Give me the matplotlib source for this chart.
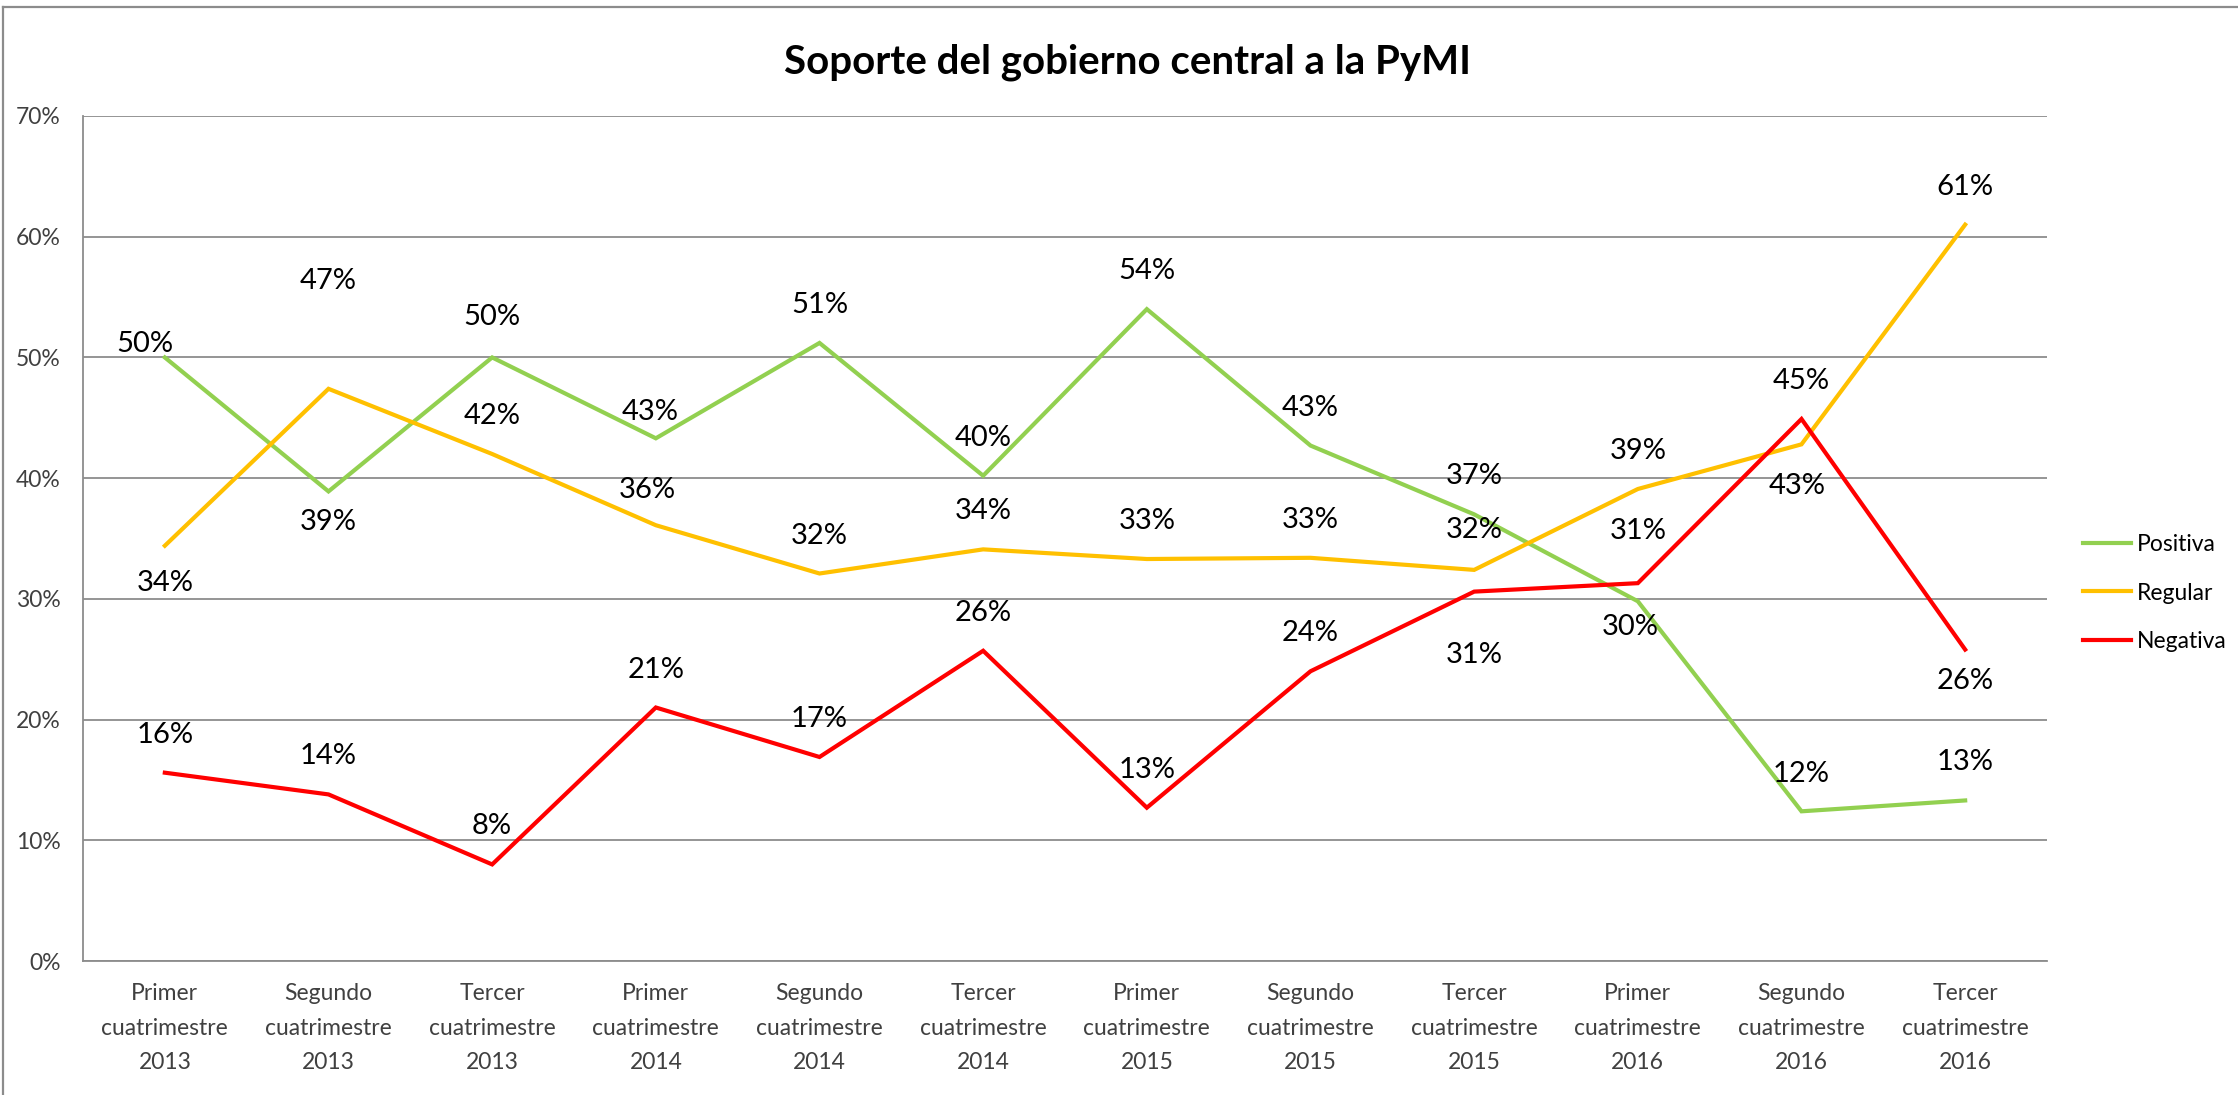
import matplotlib
matplotlib.use("Agg")
import matplotlib.pyplot as plt
from matplotlib.lines import Line2D

# data (percent)
periods = [
    "Primer\ncuatrimestre\n2013", "Segundo\ncuatrimestre\n2013", "Tercer\ncuatrimestre\n2013",
    "Primer\ncuatrimestre\n2014", "Segundo\ncuatrimestre\n2014", "Tercer\ncuatrimestre\n2014",
    "Primer\ncuatrimestre\n2015", "Segundo\ncuatrimestre\n2015", "Tercer\ncuatrimestre\n2015",
    "Primer\ncuatrimestre\n2016", "Segundo\ncuatrimestre\n2016", "Tercer\ncuatrimestre\n2016",
]
positiva = [50.0, 38.9, 50.0, 43.3, 51.2, 40.2, 54.0, 42.7, 37.0, 29.8, 12.4, 13.3]
regular = [34.4, 47.4, 42.0, 36.1, 32.1, 34.1, 33.3, 33.4, 32.4, 39.1, 42.8, 61.0]
negativa = [15.6, 13.8, 8.0, 21.0, 16.9, 25.7, 12.7, 24.0, 30.6, 31.3, 44.9, 25.8]
yticks = [0, 10, 20, 30, 40, 50, 60, 70]
title = "Soporte del gobierno central a la PyMI"

# label offsets in pixels (dx, dy), dy > 0 means above the point
off_pos = [(-20, 13), (0, -31), (0, 40), (-6, 26), (0, 38), (0, 38),
           (0, 38), (0, 38), (0, 38), (-8, -26), (0, 37), (0, 38)]
off_reg = [(0, -37), (0, 108), (0, 38), (-9, 35), (0, 38), (0, 38),
           (0, 38), (0, 38), (0, 40), (0, 38), (-4, -42), (0, 38)]
off_neg = [(0, 38), (0, 38), (0, 38), (0, 38), (0, 38), (0, 38),
           (0, 38), (0, 38), (0, -63), (0, 52), (0, 38), (0, -31)]

plt.rcParams["font.family"] = ["Lato", "DejaVu Sans"]

W, H, DPI = 2238, 1095, 100
fig = plt.figure(figsize=(W / DPI, H / DPI), dpi=DPI)
ax = fig.add_axes([83 / W, 1 - 961 / H, (2047 - 83) / W, (961 - 116) / H])

grid_c = "#8c8c8c"
x = list(range(len(periods)))
series = [
    ("Positiva", positiva, "#92D050", off_pos),
    ("Regular", regular, "#FFC000", off_reg),
    ("Negativa", negativa, "#FF0000", off_neg),
]
px2pt = 72 / DPI
for name, vals, col, offs in series:
    ax.plot(x, vals, color=col, lw=3.0, label=name, solid_joinstyle="miter", zorder=3)
    for xi, v, (dx, dy) in zip(x, vals, offs):
        ax.annotate(f"{round(v)}%", (xi, v), xytext=(dx * px2pt, dy * px2pt),
                    textcoords="offset points", ha="center", va="center",
                    fontsize=21, color="black", zorder=4)

ax.set_xlim(-0.5, len(periods) - 0.5)
ax.set_ylim(0, 70)
ax.set_yticks(yticks)
ax.set_yticklabels([f"{t}%" for t in yticks])
ax.set_xticks(x)
ax.set_xticklabels(periods, linespacing=1.8)
ax.tick_params(axis="both", length=0, labelsize=16.5, labelcolor="#404040")
ax.tick_params(axis="x", pad=16)
ax.tick_params(axis="y", pad=16)
ax.grid(axis="y", color=grid_c, lw=1.3)
ax.set_axisbelow(True)
for s in ["top", "right"]:
    ax.spines[s].set_visible(False)
for s in ["left", "bottom"]:
    ax.spines[s].set_color(grid_c)
    ax.spines[s].set_linewidth(1.3)

fig.text(1128 / W, 1 - 62 / H, title, ha="center", va="center",
         fontsize=29, fontweight="bold", color="black")

ax.legend(loc="center left", bbox_to_anchor=(2083 / W, 1 - 593 / H),
          bbox_transform=fig.transFigure, frameon=False, fontsize=16.5,
          handlelength=2.1, handletextpad=0.25, labelspacing=1.2,
          borderpad=0, borderaxespad=0)

# chart area border (left and top visible)
bx, by = 3 / W, 1 - 7 / H
fig.add_artist(Line2D([bx, bx], [0, by], transform=fig.transFigure, color="#8c8c8c", lw=1.6))
fig.add_artist(Line2D([bx, 1], [by, by], transform=fig.transFigure, color="#8c8c8c", lw=1.6))

fig.savefig("out.png", dpi=DPI)
